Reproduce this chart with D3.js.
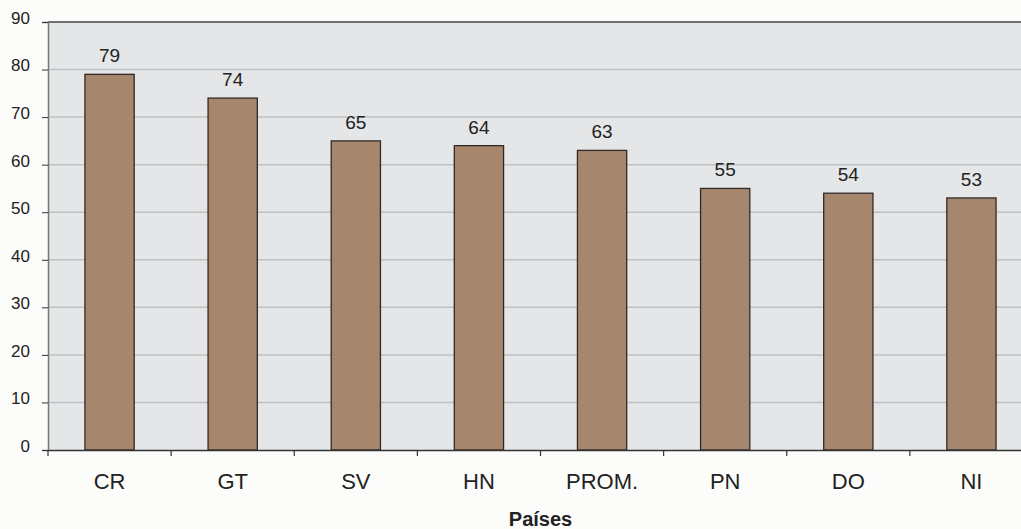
<!DOCTYPE html>
<html>
<head>
<meta charset="utf-8">
<script src="https://cdn.jsdelivr.net/npm/d3@7.9.0/dist/d3.min.js"></script>
<style>
  html, body { margin: 0; padding: 0; background: #fcfcfa; overflow: hidden; }
  svg { display: block; font-family: "Liberation Sans", Arial, sans-serif; }
</style>
</head>
<body>
<svg id="chart" width="1021" height="529"></svg>
<script>
// --- data ---
const countries = ["CR", "GT", "SV", "HN", "PROM.", "PN", "DO", "NI"];
const values = [79, 74, 65, 64, 63, 55, 54, 53];
const yTicks = [0, 10, 20, 30, 40, 50, 60, 70, 80, 90];
const xTitle = "Países";

const svg = d3.select("#chart");
const margin = { top: 22, left: 48, bottom: 79 };
const plotW = 985; // runs past the right edge, like the original
const plotH = 529 - margin.top - margin.bottom;

const g = svg.append("g").attr("transform", `translate(${margin.left},${margin.top})`);

const x = d3.scaleBand().domain(countries).range([0, plotW]).paddingInner(0.6).paddingOuter(0.3);
const xEdge = d3.scaleBand().domain(countries).range([0, plotW]);
const y = d3.scaleLinear().domain([0, 90]).range([plotH, 0]);

// plot background
g.append("rect")
  .attr("width", plotW).attr("height", plotH)
  .attr("fill", "#e5e6e8");

// gridlines
g.selectAll(".grid")
  .data(yTicks.filter(d => d > 0 && d < 90))
  .join("line")
  .attr("x1", 0).attr("x2", plotW)
  .attr("y1", d => y(d)).attr("y2", d => y(d))
  .attr("stroke", "#bfc0c2").attr("stroke-width", 1.5);

// top border
g.append("line")
  .attr("x1", 0).attr("x2", plotW)
  .attr("y1", 0).attr("y2", 0)
  .attr("stroke", "#444").attr("stroke-width", 1.5);

// bars
g.selectAll(".bar")
  .data(values.map((v, i) => ({ c: countries[i], v })))
  .join("rect")
  .attr("x", d => x(d.c))
  .attr("y", d => y(d.v))
  .attr("width", x.bandwidth())
  .attr("height", d => plotH - y(d.v))
  .attr("fill", "#a6876e")
  .attr("stroke", "#2e2a28").attr("stroke-width", 1.3);

// value labels
g.selectAll(".val")
  .data(values.map((v, i) => ({ c: countries[i], v })))
  .join("text")
  .attr("x", d => x(d.c) + x.bandwidth() / 2)
  .attr("y", d => y(d.v) - 12)
  .attr("text-anchor", "middle")
  .attr("font-size", 19)
  .attr("fill", "#222")
  .text(d => d.v);

// y axis
const yAxis = g.append("g")
  .call(d3.axisLeft(y).tickValues(yTicks).tickSize(6).tickPadding(12));
yAxis.select(".domain").attr("stroke", "#777").attr("stroke-width", 1.5);
yAxis.selectAll(".tick line").attr("stroke", "#333");
yAxis.selectAll(".tick text")
  .attr("font-size", 17).attr("fill", "#222")
  .attr("dy", "0.08em");

// x axis
const xAxis = g.append("g")
  .attr("transform", `translate(0,${plotH})`)
  .call(d3.axisBottom(xEdge).tickSize(0).tickPadding(23));
xAxis.select(".domain").attr("stroke", "#333").attr("stroke-width", 1.5);
xAxis.selectAll(".tick text").attr("font-size", 22).attr("fill", "#222");

// band boundary ticks
g.append("g")
  .selectAll("line")
  .data(countries)
  .join("line")
  .attr("x1", d => xEdge(d)).attr("x2", d => xEdge(d))
  .attr("y1", plotH).attr("y2", plotH + 6)
  .attr("stroke", "#333").attr("stroke-width", 1.2);

// x title
svg.append("text")
  .attr("x", margin.left + plotW / 2)
  .attr("y", 526)
  .attr("text-anchor", "middle")
  .attr("font-size", 20).attr("font-weight", "bold")
  .attr("fill", "#222")
  .text(xTitle);
</script>
</body>
</html>
